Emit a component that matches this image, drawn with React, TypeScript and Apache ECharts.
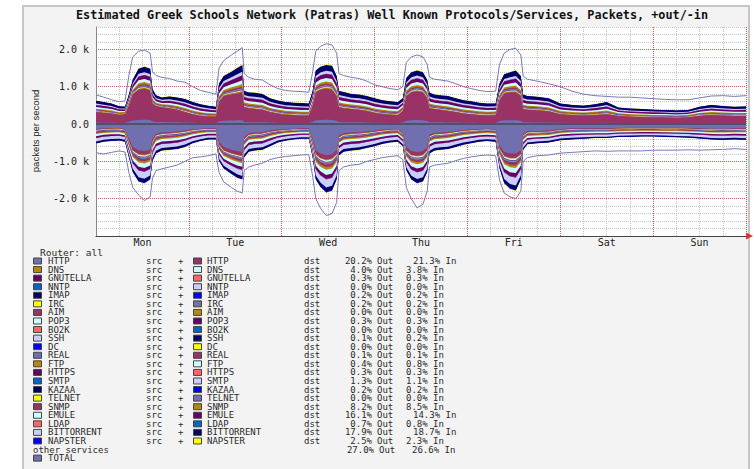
import React, { useEffect, useRef } from 'react';
import * as echarts from 'echarts';

// time in hours since Monday 00:00
const T = [0,2,4,6,7.5,8.5,9.5,11,12.5,14,
14.6,15.5,17,19,21,23,25,27,29,31,
31.8,33,35,36.5,37.8,38.3,39.5,41,43,45,
47,49,51,53,55,56,56.8,58,59.5,61,
62.2,62.8,64,66,68,70,72,74,76,78,
79.3,80.2,81.5,83,84.5,85.6,86.2,87.5,89,91,
93,95,97,99,101,103.3,104.3,105.5,107,108.5,
109.8,110.4,111.5,114,117,120,123,126,129,132,
135,138,141,144,147,150,153,156,159,162,
165,168];

// top of the outgoing stack (packets/s)
const outStack = [630,600,560,480,470,800,1200,1500,1550,1500,
950,780,720,750,720,680,600,540,500,470,
1100,1300,1420,1520,1600,900,860,850,820,700,
640,600,580,570,560,900,1450,1550,1600,1580,
1300,900,870,820,800,760,700,650,620,600,
700,1250,1400,1450,1400,1200,850,800,780,760,
700,650,620,580,560,560,1100,1350,1400,1450,
1300,800,760,740,700,560,520,500,540,600,
450,420,410,390,380,370,380,470,520,490,
470,480];

// HTTP part of the outgoing stack
const outHttp = [320,300,280,250,260,500,800,920,950,900,
550,480,450,420,380,320,260,220,200,200,
600,750,800,820,850,450,420,400,380,320,
280,250,240,230,230,500,850,920,950,920,
750,450,420,400,380,350,300,270,250,240,
350,750,850,880,850,700,420,400,380,350,
320,280,260,240,230,240,650,820,850,850,
750,400,380,370,340,260,240,230,240,260,
220,200,190,180,180,170,180,220,240,230,
220,220];

// TOTAL outgoing
const outTotal = [780,720,650,600,620,1300,1800,1950,1980,1900,
1400,1300,1250,1220,1150,1120,1000,900,850,800,
1500,1700,1850,1950,2050,1350,1250,1200,1180,1050,
950,900,880,870,850,1400,1950,2080,2150,2120,
1900,1350,1300,1250,1220,1150,1050,1000,950,920,
1000,1650,1800,1850,1800,1600,1250,1200,1180,1150,
1080,1000,950,900,870,880,1600,1900,2000,2030,
1850,1280,1200,1150,1080,1000,880,800,760,740,
720,720,700,680,660,650,650,700,750,760,
740,760];

// incoming stack depth (magnitude)
const inStack = [530,480,460,450,480,900,1300,1550,1600,1500,
1000,800,720,700,680,620,520,460,420,420,
1000,1200,1350,1450,1500,900,750,720,700,600,
500,450,420,400,400,900,1500,1700,1850,1800,
1500,850,750,720,700,650,600,540,500,480,
600,1250,1500,1600,1550,1300,800,720,700,680,
620,560,520,480,460,480,1200,1600,1750,1800,
1500,700,550,520,500,440,420,400,380,380,
350,350,340,340,350,360,370,390,420,430,
420,430];

// HTTP part of incoming
const inHttp = [150,130,120,120,150,450,700,800,820,780,
450,300,260,250,230,200,160,140,130,130,
550,700,780,820,850,400,280,260,250,200,
170,150,140,130,130,450,800,900,950,920,
800,350,280,260,250,230,200,170,150,140,
250,700,820,850,820,700,320,270,260,240,
210,180,160,150,140,150,650,850,900,900,
800,300,220,210,200,150,130,130,130,130,
120,110,110,110,110,110,120,130,140,140,
130,130];

// TOTAL incoming (magnitude)
const inTotal = [770,800,760,720,750,1300,1700,1900,2050,1950,
1450,1250,1200,1150,1100,1000,900,880,850,800,
1300,1550,1700,1800,1850,1250,1150,1100,1050,950,
900,870,850,830,820,1400,2000,2250,2450,2400,
2100,1250,1150,1100,1080,1000,950,900,870,850,
950,1700,2000,2250,2150,1800,1150,1100,1080,1050,
980,920,880,850,830,850,1500,1850,1950,2000,
1800,1000,900,850,830,780,760,740,720,730,
720,720,720,700,700,700,690,700,690,680,
660,680];

const days = ['Mon', 'Tue', 'Wed', 'Thu', 'Fri', 'Sat', 'Sun'];
const protocols = ['HTTP','DNS','GNUTELLA','NNTP','IMAP','IRC','AIM','POP3','BO2K','SSH','DC','REAL','FTP','HTTPS','SMTP','KAZAA','TELNET','SNMP','EMULE','LDAP','BITTORRENT','NAPSTER'];
const outPct = [20.2,4.0,0.3,0.0,0.2,0.2,0.0,0.3,0.0,0.1,0.0,0.1,0.4,0.3,1.3,0.2,0.0,8.2,16.1,0.7,17.9,2.5];
const inPct = [21.3,3.8,0.3,0.0,0.2,0.2,0.0,0.3,0.0,0.2,0.0,0.1,0.8,0.3,1.1,0.2,0.0,8.5,14.3,0.8,18.7,2.3];
const otherOut = 27.0;
const otherIn = 26.6;
const srcShareOut = [0.12,0.6,0.5,0.5,0.5,0.5,0.5,0.5,0.5,0.5,0.5,0.5,0.5,0.5,0.5,0.5,0.5,0.45,0.45,0.5,0.35,0.4];
const palette = ['#7070b0','#b8860b','#660066','#0066cc','#000066','#ffff00','#993366','#ccffff','#ff6666','#ccccff','#0000ff'];

const MONO = 'DejaVu Sans Mono';

export default function App() {
  const ref = useRef<HTMLDivElement>(null);
  useEffect(() => {
    document.body.style.margin = '0';
    const chart = echarts.init(ref.current!, undefined, { renderer: 'svg', width: 754, height: 469 });

    const restOutW = outPct.slice(1).reduce((a, b) => a + b, 0);
    const restInW = inPct.slice(1).reduce((a, b) => a + b, 0);

    type Layer = { name: string; color: string; vals: number[] };
    const outLayers: Layer[] = [];
    const inLayers: Layer[] = [];
    protocols.forEach((name, p) => {
      [0, 1].forEach((d) => {
        const color = palette[(p + (d ? 6 : 0)) % 11];
        const sOut = d ? 1 - srcShareOut[p] : srcShareOut[p];
        const sIn = d ? srcShareOut[p] : 1 - srcShareOut[p];
        outLayers.push({
          name: name + (d ? ' dst' : ' src') + ' out', color,
          vals: T.map((_, k) => (p === 0 ? outHttp[k] * sOut : (outStack[k] - outHttp[k]) * (outPct[p] / restOutW) * sOut)),
        });
        inLayers.push({
          name: name + (d ? ' dst' : ' src') + ' in', color,
          vals: T.map((_, k) => (p === 0 ? inHttp[k] * sIn : (inStack[k] - inHttp[k]) * (inPct[p] / restInW) * sIn)),
        });
      });
    });
    const cumulate = (layers: Layer[], sign: number) => {
      const acc = T.map(() => 0);
      return layers.map((l) => {
        const c = l.vals.map((v, k) => (acc[k] += v));
        return { name: l.name, color: l.color, data: T.map((t, k) => [t, sign * c[k]]) };
      });
    };
    const outCum = cumulate(outLayers, 1);
    const inCum = cumulate(inLayers, -1);

    const series: any[] = [];
    const pushArea = (s: { name: string; color: string; data: number[][] }) =>
      series.push({
        type: 'line', name: s.name, data: s.data, symbol: 'none', silent: true,
        lineStyle: { width: 0 }, areaStyle: { color: s.color, opacity: 1, origin: 0 },
        emphasis: { disabled: true }, z: 2,
      });
    for (let i = outCum.length - 1; i >= 0; i--) pushArea(outCum[i]);
    for (let i = inCum.length - 1; i >= 0; i--) pushArea(inCum[i]);

    series.push({
      type: 'line', name: 'TOTAL out', data: T.map((t, k) => [t, outTotal[k]]), symbol: 'none', silent: true,
      lineStyle: { color: '#7878b8', width: 1 }, emphasis: { disabled: true }, z: 4,
      markLine: { silent: true, symbol: 'none', label: { show: false }, lineStyle: { color: '#50506a', width: 2, type: 'solid' }, data: [{ yAxis: 0 }] },
    });
    series.push({
      type: 'line', name: 'TOTAL in', data: T.map((t, k) => [t, -inTotal[k]]), symbol: 'none', silent: true,
      lineStyle: { color: '#7878b8', width: 1 }, emphasis: { disabled: true }, z: 4,
    });

    const red = '#cc5a5a';
    const gray = '#c2c2c2';
    const graphics: any[] = [];
    const txt = (x: number, y: number, text: string, extra: any = {}) => ({
      type: 'text', x, y, silent: true,
      style: { text, fontFamily: MONO, fontSize: 9, lineHeight: 8.4, fill: '#2a2a2a', verticalAlign: 'middle', align: 'left', ...extra },
    });
    graphics.push(txt(392, 15, 'Estimated Greek Schools Network (Patras) Well Known Protocols/Services, Packets, +out/-in',
      { fontSize: 11.8, lineHeight: 12, fontWeight: 'bold', align: 'center', fill: '#111' }));
    graphics.push({
      type: 'text', x: 35, y: 131, rotation: Math.PI / 2, silent: true,
      style: { text: 'packets per second', fontFamily: 'Liberation Sans', fontSize: 9.5, fill: '#222', align: 'center', verticalAlign: 'middle' },
    });
    graphics.push(txt(40, 252, 'Router: all', { fontSize: 9.5 }));
    const y0 = 261;
    const dy = 8.57;
    const sw = (x: number, y: number, color: string) => ({
      type: 'rect', silent: true, shape: { x, y: y - 3, width: 8, height: 6 },
      style: { fill: color, stroke: '#444', lineWidth: 1 },
    });
    protocols.forEach((name, p) => {
      const y = y0 + p * dy;
      graphics.push(sw(33.5, y, palette[p % 11]));
      graphics.push(txt(48, y, name));
      graphics.push(txt(146, y, 'src'));
      graphics.push(txt(178, y, '+'));
      graphics.push(sw(193.5, y, palette[(p + 6) % 11]));
      graphics.push(txt(207, y, name));
      graphics.push(txt(304, y, 'dst'));
      graphics.push(txt(372, y, outPct[p].toFixed(1) + '%', { align: 'right' }));
      graphics.push(txt(377, y, 'Out'));
      graphics.push(txt(inPct[p] >= 10 ? 413 : 406, y, inPct[p].toFixed(1) + '% In'));
    });
    const yo = y0 + 22 * dy;
    graphics.push(txt(33, yo, 'other services'));
    graphics.push(txt(374, yo, otherOut.toFixed(1) + '%', { align: 'right' }));
    graphics.push(txt(379, yo, 'Out'));
    graphics.push(txt(412, yo, otherIn.toFixed(1) + '% In'));
    const yt = y0 + 23 * dy;
    graphics.push(sw(33.5, yt, palette[0]));
    graphics.push(txt(48, yt, 'TOTAL'));
    graphics.push({
      type: 'polygon', silent: true, shape: { points: [[746, 232.5], [753, 236], [746, 239.5]] },
      style: { fill: '#e03030' },
    });

    chart.setOption({
      animation: false,
      grid: { left: 96, top: 27, width: 650, height: 209, show: false },
      xAxis: {
        type: 'value', min: 0, max: 168, interval: 6,
        axisLine: { show: true, onZero: false, lineStyle: { color: '#444', width: 1 } },
        axisTick: { show: false },
        axisLabel: {
          margin: 1, fontFamily: MONO, fontSize: 10, color: '#222',
          formatter: (v: number) => (v % 24 === 12 ? days[Math.floor(v / 24)] : ''),
        },
        splitLine: { show: true, lineStyle: { color: [red, gray, gray, gray], type: 'dotted', width: 1 } },
      },
      yAxis: {
        type: 'value', min: -3000, max: 2600, interval: 200,
        axisLine: { show: true, lineStyle: { color: '#888', width: 1 } },
        axisTick: { show: false },
        axisLabel: {
          margin: 7, fontFamily: MONO, fontSize: 10, color: '#222',
          formatter: (v: number) => (v === 0 ? '0.0' : v % 1000 === 0 && v > -3000 ? (v / 1000).toFixed(1) + ' k' : ''),
        },
        splitLine: { show: true, lineStyle: { color: [red, gray, gray, gray, gray], type: 'dotted', width: 1 } },
      },
      series,
      graphic: graphics,
    });
    return () => chart.dispose();
  }, []);

  return (
    <div style={{ position: 'relative', width: 754, height: 469, background: '#ffffff', overflow: 'hidden' }}>
      <div style={{ position: 'absolute', left: 22, top: 5, width: 728, height: 480, background: '#f3f3f3', border: '2px solid #c6c6c6', boxSizing: 'border-box' }} />
      <div style={{ position: 'absolute', left: 96, top: 27, width: 650, height: 209, background: '#ffffff' }} />
      <div ref={ref} style={{ position: 'absolute', left: 0, top: 0, width: 754, height: 469 }} />
    </div>
  );
}
